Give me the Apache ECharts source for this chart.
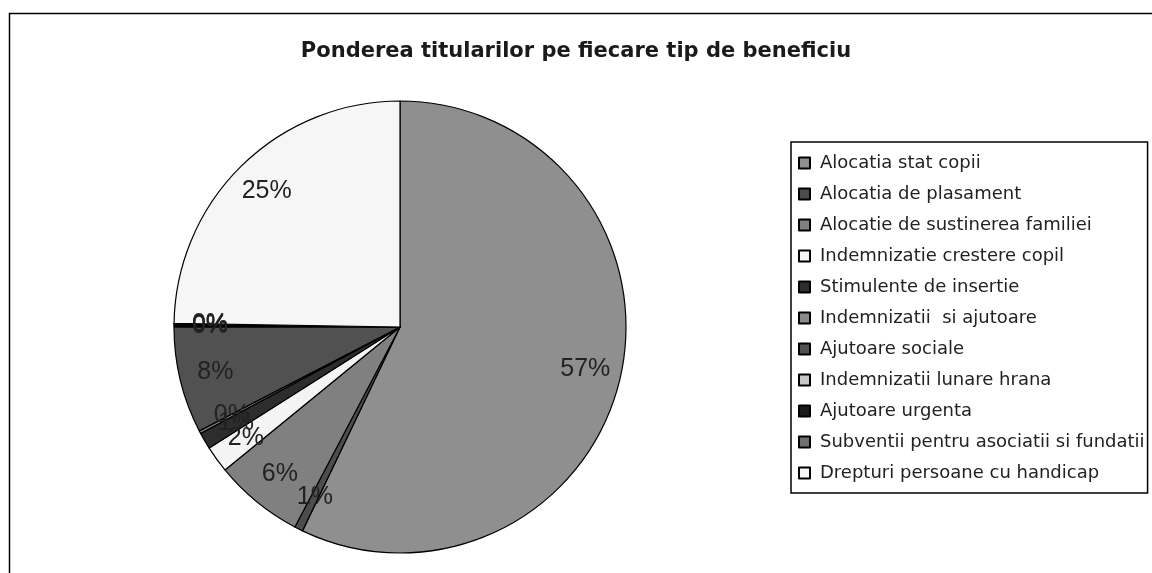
<!DOCTYPE html>
<html>
<head>
<meta charset="utf-8">
<script src="https://cdn.jsdelivr.net/npm/echarts@6/dist/echarts.min.js"></script>
<style>
  html, body { margin: 0; padding: 0; background: #fff; }
  #chart { width: 1152px; height: 573px; }
</style>
</head>
<body>
<div id="chart"></div>
<script>
// tipuri de beneficiu, in ordinea din legenda
var categories = [
    'Alocatia stat copii',
    'Alocatia de plasament',
    'Alocatie de sustinerea familiei',
    'Indemnizatie crestere copil',
    'Stimulente de insertie',
    'Indemnizatii  si ajutoare',
    'Ajutoare sociale',
    'Indemnizatii lunare hrana',
    'Ajutoare urgenta',
    'Subventii pentru asociatii si fundatii',
    'Drepturi persoane cu handicap'
];
// pondere titulari (%)
var values = [57.1, 0.6, 6.4, 1.9, 1.2, 0.2, 7.6, 0.1, 0.1, 0.05, 24.75];
var colors = ['#8f8f8f', '#4d4d4d', '#808080', '#f4f4f4', '#2d2d2d', '#8a8a8a',
              '#515151', '#c8c8c8', '#1a1a1a', '#707070', '#f6f6f6'];

var chart = echarts.init(document.getElementById('chart'));

var pieData = [];
var labelData = [];
for (var i = 0; i < categories.length; i++) {
    pieData.push({
        name: categories[i],
        value: values[i],
        itemStyle: { color: colors[i] }
    });
    labelData.push({ name: categories[i], value: values[i] });
}

var option = {
    backgroundColor: '#fff',
    animation: false,
    title: {
        text: 'Ponderea titularilor pe fiecare tip de beneficiu',
        left: 'center',
        top: 36,
        textStyle: {
            fontFamily: 'DejaVu Sans',
            fontWeight: 'bold',
            fontSize: 21,
            color: '#1a1a1a'
        }
    },
    graphic: [{
        type: 'rect',
        shape: { x: 9.5, y: 13.5, width: 1300, height: 800 },
        style: { fill: 'none', stroke: '#000', lineWidth: 1.5 },
        silent: true
    }],
    legend: {
        orient: 'vertical',
        left: 791,
        top: 142,
        data: categories,
        icon: 'rect',
        itemWidth: 11,
        itemHeight: 11,
        itemGap: 13,
        padding: [12, 3, 11, 7],
        borderColor: '#000',
        borderWidth: 1.5,
        backgroundColor: '#fff',
        textStyle: {
            fontFamily: 'DejaVu Sans',
            fontSize: 18,
            color: '#222',
            padding: [0, 0, 0, 5]
        }
    },
    series: [{
        name: 'Pondere',
        type: 'pie',
        center: [400, 327],
        radius: [0, 226],
        startAngle: 90,
        clockwise: true,
        silent: true,
        label: { show: false },
        labelLine: { show: false },
        itemStyle: { borderColor: '#000', borderWidth: 1.2 },
        data: pieData
    }, {
        // inel transparent doar pentru pozitia etichetelor
        name: 'Etichete',
        type: 'pie',
        center: [400, 327],
        radius: [148, 226],
        startAngle: 90,
        clockwise: true,
        silent: true,
        avoidLabelOverlap: false,
        legendHoverLink: false,
        itemStyle: { color: 'rgba(0,0,0,0)', borderWidth: 0 },
        labelLayout: { hideOverlap: false },
        label: {
            show: true,
            position: 'inside',
            fontFamily: 'Liberation Sans',
            fontSize: 25,
            color: '#222',
            formatter: function (p) {
                return Math.round(p.value) + '%';
            }
        },
        labelLine: { show: false },
        data: labelData
    }]
};
chart.setOption(option);
</script>
</body>
</html>
